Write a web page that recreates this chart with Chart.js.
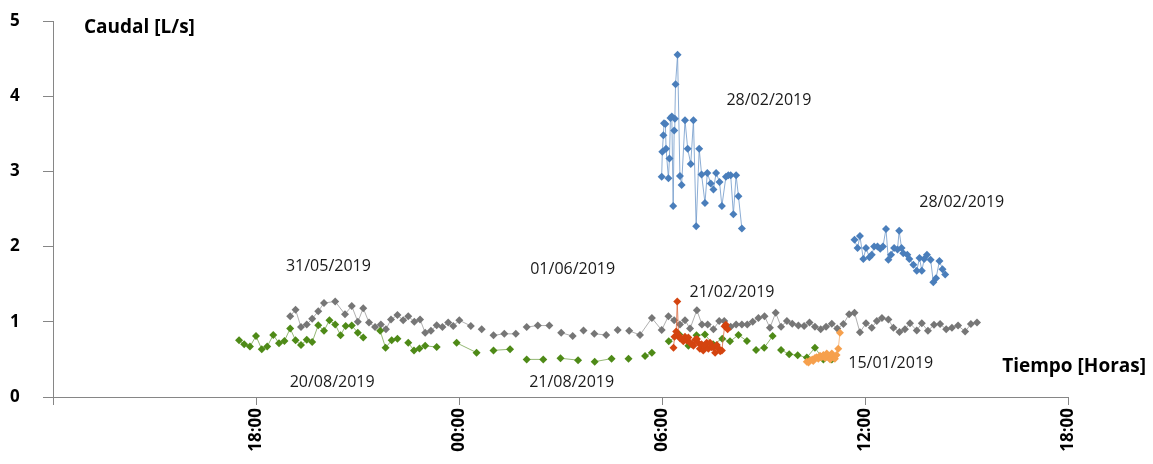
<!DOCTYPE html>
<html>
<head>
<meta charset="utf-8">
<script src="https://cdn.jsdelivr.net/npm/chart.js@4.4.1/dist/chart.umd.min.js"></script>
<style>
  html, body { margin: 0; padding: 0; background: #ffffff; }
  #wrap { width: 1153px; height: 464px; position: relative; }
</style>
</head>
<body>
<div id="wrap"><canvas id="c"></canvas></div>
<script>
// Time axis is in hours counted from 00:00 of the first day (values > 24 are the next day).
// A null entry breaks the line between two groups of readings.

// 31/05/2019 - 01/06/2019
const mayHours = [19.01,19.17,19.33,19.50,19.66,19.84,20.01,20.34,20.63,20.83,21.01,21.17,21.34,21.52,21.69,21.84,21.99,22.18,22.35,22.50,22.68,22.85,23.00,23.17,23.34,23.51,23.68,23.83,24.01,24.35,null,24.67,null,25.02,25.34,25.68,null,26.00,26.33,26.67,null,27.02,27.36,null,27.68,null,28.00,28.35,null,28.69,null,29.03,29.35,29.70,29.99,30.19,30.36,30.53,30.68,30.83,31.03,31.18,31.35,31.52,31.69,31.84,32.03,32.19,32.36,32.52,32.68,32.85,33.03,33.19,33.36,33.52,33.69,33.85,34.03,34.20,34.36,34.52,34.69,34.85,35.02,35.18,35.36,35.53,35.69,35.85,36.03,36.20,36.35,36.50,36.69,36.84,37.02,37.18,37.33,37.53,37.68,37.86,38.04,38.22,38.40,38.57,38.75,38.96,39.13,39.31];
const mayFlow  = [1.075,1.16,0.93,0.965,1.04,1.14,1.25,1.27,1.10,1.21,1.00,1.18,0.99,0.93,0.965,0.90,1.03,1.09,1.02,1.075,1.00,1.03,0.855,0.88,0.955,0.93,0.99,0.945,1.02,0.945,null,0.90,null,0.82,0.84,0.84,null,0.93,0.95,0.95,null,0.855,0.81,null,0.885,null,0.84,0.825,null,0.89,null,0.88,0.825,1.05,0.89,1.075,1.02,0.965,1.02,0.91,1.155,0.965,0.965,0.90,1.01,1.01,0.935,0.965,0.965,0.965,1.00,1.05,1.075,0.92,1.12,0.935,1.01,0.975,0.95,0.945,0.99,0.935,0.90,0.935,0.975,0.91,0.97,1.10,1.12,0.86,0.98,0.92,1.01,1.05,1.03,0.92,0.865,0.90,0.98,0.885,0.98,0.88,0.96,0.97,0.90,0.92,0.95,0.87,0.97,0.99];

// 20/08/2019 - 21/08/2019
const augHours = [17.50,17.65,17.82,18.00,18.17,18.33,18.51,18.68,18.84,19.01,19.17,19.33,19.50,19.66,19.84,20.01,20.17,20.34,20.50,20.65,20.83,21.01,21.17,null,21.67,21.83,22.01,22.18,null,22.50,22.67,22.83,23.00,23.34,null,23.93,24.52,null,25.02,25.51,null,26.00,26.49,null,27.00,27.52,null,28.01,28.51,null,29.01,null,29.50,29.70,null,30.20,30.51,30.78,31.02,31.27,31.51,31.78,32.01,32.26,32.51,null,32.78,33.02,33.27,null,33.52,33.76,34.01,34.28,34.52,34.77,35.02];
const augFlow  = [0.754,0.70,0.67,0.81,0.635,0.67,0.825,0.715,0.745,0.91,0.754,0.69,0.76,0.73,0.955,0.88,1.02,0.965,0.82,0.945,0.95,0.855,0.79,null,0.88,0.655,0.754,0.775,null,0.72,0.62,0.645,0.68,0.665,null,0.72,0.59,null,0.62,0.635,null,0.50,0.50,null,0.515,0.49,null,0.47,0.51,null,0.51,null,0.545,0.59,null,0.74,0.83,0.68,0.82,0.83,0.70,0.775,0.74,0.825,0.745,null,0.625,0.655,0.81,null,0.625,0.57,0.555,0.525,0.655,0.50,0.50];

// 28/02/2019 (two periods)
const febHours = [29.99,30.01,30.04,30.06,30.10,30.12,30.19,30.22,30.25,30.29,30.33,30.36,30.38,30.40,30.46,30.53,30.58,30.68,30.76,30.85,30.93,31.01,31.10,31.17,31.27,31.34,31.44,31.52,31.60,31.70,31.77,31.89,31.96,32.03,32.11,32.19,32.26,32.36,null,35.69,35.78,35.85,35.95,36.03,36.13,36.20,36.27,36.37,36.45,36.53,36.62,36.69,36.77,36.86,36.96,37.01,37.08,37.13,37.25,37.31,37.43,37.53,37.61,37.68,37.75,37.83,37.94,38.02,38.10,38.20,38.29,38.37];
const febFlow  = [2.93,3.26,3.48,3.64,3.63,3.30,2.91,3.17,3.71,3.73,2.54,3.545,3.70,4.16,4.55,2.94,2.82,3.68,3.30,3.10,3.68,2.27,3.30,2.96,2.58,2.98,2.84,2.76,2.98,2.86,2.54,2.93,2.95,2.95,2.43,2.95,2.67,2.24,null,2.09,1.98,2.14,1.835,1.98,1.86,1.89,2.00,2.00,1.97,2.00,2.235,1.825,1.89,1.98,1.96,2.21,1.98,1.91,1.89,1.835,1.76,1.68,1.85,1.68,1.835,1.89,1.825,1.525,1.58,1.81,1.70,1.63];

// 21/02/2019
const feb21Hours = [30.34,30.37,30.42,30.45,30.49,30.53,30.58,30.63,30.68,30.73,30.78,30.83,30.88,30.93,30.98,31.03,31.07,31.12,31.17,31.22,31.27,31.32,31.37,31.42,31.47,31.52,31.57,31.62,31.66,31.72,31.77,31.85,31.89,31.94];
const feb21Flow  = [0.655,0.80,0.87,1.27,0.82,0.78,0.77,0.74,0.80,0.75,0.79,0.72,0.70,0.68,0.76,0.77,0.72,0.64,0.70,0.62,0.68,0.72,0.64,0.72,0.66,0.66,0.59,0.69,0.65,0.61,0.62,0.94,0.96,0.90];

// 15/01/2019
const janHours = [34.28,34.33,34.38,34.44,34.47,34.52,34.57,34.62,34.67,34.72,34.77,34.82,34.87,34.92,34.97,35.02,35.06,35.11,35.16,35.21,35.26];
const janFlow  = [0.47,0.46,0.49,0.50,0.48,0.52,0.53,0.51,0.55,0.53,0.56,0.52,0.58,0.53,0.50,0.58,0.55,0.51,0.56,0.64,0.855];

// Time-axis ticks (hours) and their labels
const xTickHours  = [18, 24, 30, 36, 42];
const xTickLabels = ['18:00', '00:00', '06:00', '12:00', '18:00'];
const yTicks = [0, 1, 2, 3, 4, 5];

// Date captions placed in data coordinates (hour, flow)
const dateLabels = [
  { text: '28/02/2019', hour: 33.16, flow: 3.94 },
  { text: '28/02/2019', hour: 38.86, flow: 2.59 },
  { text: '31/05/2019', hour: 20.14, flow: 1.73 },
  { text: '01/06/2019', hour: 27.36, flow: 1.70 },
  { text: '21/02/2019', hour: 32.07, flow: 1.39 },
  { text: '20/08/2019', hour: 20.25, flow: 0.19 },
  { text: '21/08/2019', hour: 27.33, flow: 0.19 },
  { text: '15/01/2019', hour: 36.76, flow: 0.45 }
];

function toPoints(hours, flow) {
  return hours.map((h, i) => (h === null || flow[i] === null) ? { x: NaN, y: null } : { x: h, y: flow[i] });
}

function series(label, hours, flow, color, lineColor) {
  return {
    label: label,
    data: toPoints(hours, flow),
    showLine: true,
    spanGaps: false,
    borderColor: lineColor,
    backgroundColor: color,
    borderWidth: 0.8,
    pointStyle: 'rectRot',
    pointRadius: 4,
    pointHoverRadius: 4,
    pointBorderWidth: 0,
    pointBorderColor: color,
    tension: 0
  };
}

const captionPlugin = {
  id: 'captions',
  afterDatasetsDraw(chart) {
    const ctx = chart.ctx;
    const xs = chart.scales.x, ys = chart.scales.y;
    const area = chart.chartArea;
    ctx.save();
    ctx.fillStyle = '#1a1a1a';
    ctx.font = '16px "Open Sans"';
    ctx.textAlign = 'center';
    ctx.textBaseline = 'middle';
    dateLabels.forEach(d => {
      ctx.fillText(d.text, xs.getPixelForValue(d.hour), ys.getPixelForValue(d.flow));
    });
    ctx.fillStyle = '#000000';
    ctx.font = 'bold 19px "Open Sans"';
    ctx.textAlign = 'left';
    ctx.fillText('Caudal [L/s]', area.left + 31, area.top + 7);
    ctx.textAlign = 'right';
    ctx.fillText('Tiempo [Horas]', area.right + 78, area.bottom - 30);
    ctx.restore();
  }
};

new Chart(document.getElementById('c'), {
  type: 'scatter',
  data: {
    datasets: [
      series('15/01/2019', janHours, janFlow, '#f6a04d', '#f8b070'),
      series('21/02/2019', feb21Hours, feb21Flow, '#d4440f', '#dc6a40'),
      series('28/02/2019', febHours, febFlow, '#4a7ebb', '#6f98c9'),
      series('20/08/2019 - 21/08/2019', augHours, augFlow, '#4e8a17', '#78a650'),
      series('31/05/2019 - 01/06/2019', mayHours, mayFlow, '#767676', '#9a9a9a')
    ]
  },
  options: {
    responsive: true,
    maintainAspectRatio: false,
    devicePixelRatio: 1,
    animation: false,
    events: [],
    layout: { padding: { top: 21, right: 85, bottom: 0, left: 10 } },
    plugins: {
      legend: { display: false },
      tooltip: { enabled: false },
      title: { display: false }
    },
    scales: {
      x: {
        type: 'linear',
        min: 12,
        max: 42,
        afterBuildTicks(scale) {
          scale.ticks = [12].concat(xTickHours).map(v => ({ value: v }));
        },
        afterFit(scale) { scale.height = 67; },
        grid: { drawOnChartArea: false, drawTicks: true, tickLength: 8, color: '#868686', tickColor: '#868686' },
        border: { display: true, color: '#868686', width: 1 },
        ticks: {
          autoSkip: false,
          maxRotation: 90,
          minRotation: 90,
          padding: 3,
          color: '#000000',
          font: { family: 'Open Sans', size: 17, weight: 'bold' },
          callback(value) {
            const i = xTickHours.indexOf(value);
            return i >= 0 ? xTickLabels[i] : '';
          }
        }
      },
      y: {
        type: 'linear',
        min: 0,
        max: 5,
        afterBuildTicks(scale) {
          scale.ticks = yTicks.map(v => ({ value: v }));
        },
        afterFit(scale) { scale.width = 43; },
        grid: { drawOnChartArea: false, drawTicks: true, tickLength: 10, color: '#868686', tickColor: '#868686' },
        border: { display: true, color: '#868686', width: 1 },
        ticks: {
          padding: 0,
          crossAlign: 'far',
          color: '#000000',
          font: { family: 'Open Sans', size: 17, weight: 'bold' }
        }
      }
    }
  },
  plugins: [captionPlugin]
});
</script>
</body>
</html>
